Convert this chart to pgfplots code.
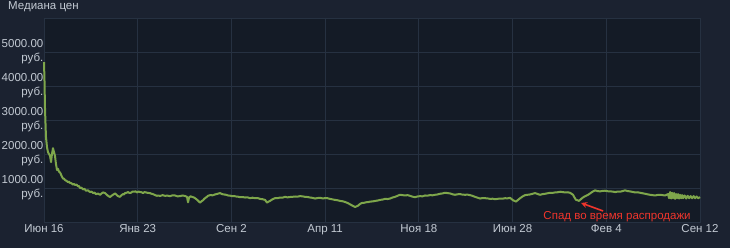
\documentclass[border=0pt]{standalone}
\usepackage{pgfplots}
\pgfplotsset{compat=1.18}
\usetikzlibrary{arrows.meta}
\usepackage{fontspec}
\setmainfont{Liberation Sans}
\definecolor{outerbg}{HTML}{1B2230}
\definecolor{plotbg}{HTML}{141B26}
\definecolor{gridc}{HTML}{263141}
\definecolor{txt}{HTML}{C3CAD3}
\definecolor{linec}{HTML}{7EA64B}
\definecolor{annot}{HTML}{F0352C}
\begin{document}
\begin{tikzpicture}
\fill[outerbg] (-44pt,-26pt) rectangle (686pt,222pt);
\useasboundingbox (-44pt,-26pt) rectangle (686pt,222pt);
\begin{axis}[
  at={(0pt,0pt)}, anchor=south west,
  scale only axis, width=656pt, height=204pt,
  xmin=0, xmax=7, ymin=0, ymax=6000,
  axis background/.style={fill=plotbg},
  axis line style={gridc, line width=0.8pt},
  grid=major, major grid style={gridc, line width=0.8pt},
  major tick length=0pt,
  xtick={0,1,2,3,4,5,6,7},
  xticklabels={Июн 16, Янв 23, Сен 2, Апр 11, Ноя 18, Июн 28, Фев 4, Сен 12},
  ytick={1000,2000,3000,4000,5000},
  yticklabels={{1000.00\\руб.},{2000.00\\руб.},{3000.00\\руб.},{4000.00\\руб.},{5000.00\\руб.}},
  yticklabel style={align=right, font=\fontsize{11.5}{14}\selectfont, text=txt, inner xsep=0.5pt},
  xticklabel style={font=\fontsize{11.5}{14}\selectfont, text=txt, inner ysep=2pt},
  clip=false,
]
\addplot[linec, line width=2pt, line join=round] coordinates {
(0.000,4700) (0.005,4200) (0.011,3300) (0.016,2900) (0.021,2500) (0.032,2200)
(0.043,2050) (0.053,2000) (0.064,1950) (0.075,1760) (0.085,2000) (0.096,2170)
(0.107,2050) (0.117,1950) (0.128,1700) (0.139,1530) (0.150,1560) (0.160,1480)
(0.170,1460) (0.181,1400) (0.192,1330) (0.203,1280) (0.214,1270) (0.224,1235)
(0.240,1210) (0.256,1170) (0.266,1190) (0.277,1150) (0.293,1140) (0.309,1100)
(0.320,1120) (0.331,1090) (0.347,1100) (0.363,1050) (0.373,1060) (0.384,1000)
(0.400,1010) (0.416,960) (0.432,975) (0.448,920) (0.470,930) (0.491,880)
(0.507,895) (0.523,850) (0.539,865) (0.555,820) (0.577,835) (0.598,800)
(0.614,840) (0.630,870) (0.651,850) (0.667,810) (0.683,770) (0.704,735)
(0.720,770) (0.736,800) (0.758,840) (0.774,800) (0.790,760) (0.811,740)
(0.827,790) (0.843,820) (0.854,810) (0.864,850) (0.880,860) (0.896,880)
(0.912,855) (0.928,860) (0.944,895) (0.960,890) (0.977,900) (0.993,870)
(1.009,895) (1.025,880) (1.041,875) (1.057,850) (1.073,880) (1.089,870)
(1.110,855) (1.131,850) (1.147,830) (1.163,820) (1.185,790) (1.206,770)
(1.222,780) (1.238,765) (1.265,790) (1.291,770) (1.318,775) (1.345,760)
(1.371,785) (1.398,780) (1.425,755) (1.451,760) (1.478,780) (1.505,765)
(1.526,740) (1.537,580) (1.548,720) (1.564,755) (1.580,740) (1.601,720)
(1.622,680) (1.643,630) (1.665,570) (1.681,610) (1.697,640) (1.713,690)
(1.729,720) (1.750,770) (1.772,790) (1.799,785) (1.825,810) (1.852,830)
(1.878,850) (1.900,820) (1.921,810) (1.943,800) (1.964,780) (1.985,775)
(2.006,760) (2.028,765) (2.049,750) (2.070,745) (2.092,730) (2.118,735)
(2.145,720) (2.172,725) (2.199,700) (2.225,715) (2.252,700) (2.279,705)
(2.305,680) (2.332,670) (2.359,650) (2.380,570) (2.396,600) (2.412,620)
(2.439,670) (2.465,700) (2.492,700) (2.519,720) (2.545,715) (2.572,740)
(2.599,725) (2.625,735) (2.652,740) (2.679,750) (2.705,745) (2.732,760)
(2.759,755) (2.785,740) (2.812,735) (2.839,720) (2.865,710) (2.892,690)
(2.919,705) (2.946,710) (2.972,695) (2.999,700) (3.025,700) (3.052,680)
(3.079,665) (3.106,650) (3.132,640) (3.159,620) (3.186,610) (3.212,590)
(3.239,560) (3.266,520) (3.292,480) (3.319,440) (3.335,460) (3.351,480)
(3.372,530) (3.394,560) (3.415,565) (3.436,580) (3.458,585) (3.479,600)
(3.506,605) (3.533,620) (3.559,630) (3.586,650) (3.613,660) (3.639,680)
(3.666,675) (3.693,690) (3.719,720) (3.746,740) (3.772,770) (3.799,800)
(3.826,790) (3.853,780) (3.879,790) (3.906,770) (3.932,745) (3.959,730)
(3.986,750) (4.013,760) (4.039,755) (4.066,780) (4.093,775) (4.119,790)
(4.146,785) (4.173,800) (4.199,810) (4.226,830) (4.252,840) (4.279,860)
(4.306,850) (4.333,840) (4.359,815) (4.386,800) (4.412,815) (4.439,820)
(4.466,805) (4.493,800) (4.519,805) (4.546,790) (4.572,770) (4.599,740)
(4.626,715) (4.653,690) (4.679,705) (4.706,700) (4.732,695) (4.759,680)
(4.786,685) (4.813,670) (4.839,680) (4.866,690) (4.892,685) (4.919,700)
(4.946,695) (4.973,710) (5.005,640) (5.021,620) (5.037,600) (5.058,650)
(5.080,700) (5.106,750) (5.133,790) (5.160,800) (5.187,810) (5.213,830)
(5.240,850) (5.266,825) (5.293,800) (5.320,820) (5.347,830) (5.373,845)
(5.400,860) (5.426,855) (5.453,870) (5.480,875) (5.507,890) (5.533,880)
(5.560,870) (5.586,875) (5.613,860) (5.645,800) (5.661,720) (5.677,650)
(5.693,640) (5.709,620) (5.725,660) (5.741,700) (5.762,740) (5.784,770)
(5.806,800) (5.827,840) (5.853,890) (5.880,930) (5.907,910) (5.934,900)
(5.960,915) (5.987,920) (6.013,905) (6.040,900) (6.067,895) (6.094,880)
(6.120,895) (6.147,890) (6.174,910) (6.200,930) (6.227,910) (6.254,900)
(6.280,885) (6.307,870) (6.334,875) (6.360,860) (6.387,845) (6.414,830)
(6.440,815) (6.467,800) (6.494,790) (6.521,780) (6.547,795) (6.574,800)
(6.601,790) (6.627,780) (6.659,820) (6.670,700) (6.681,880) (6.692,690)
(6.702,860) (6.713,700) (6.724,850) (6.734,680) (6.745,820) (6.756,700)
(6.766,820) (6.777,690) (6.788,800) (6.799,700) (6.810,790) (6.820,700)
(6.836,780) (6.852,690) (6.868,770) (6.884,700) (6.900,760) (6.916,700)
(6.932,760) (6.948,700) (6.964,750) (6.980,700) (7.001,730)
};
\draw[annot, line width=1.6pt, -{Stealth[length=6pt,width=6pt]}] (axis cs:5.966,324) -- (axis cs:5.731,559);
\node[annot, font=\fontsize{11.5}{14}\selectfont, anchor=base, inner sep=1pt] at (axis cs:6.115,70) {Спад во время распродажи};
\end{axis}
\node[anchor=base west, text=txt, font=\fontsize{11.5}{14}\selectfont, inner sep=0pt] at (-36pt,212pt) {Медиана цен};
\end{tikzpicture}
\end{document}
